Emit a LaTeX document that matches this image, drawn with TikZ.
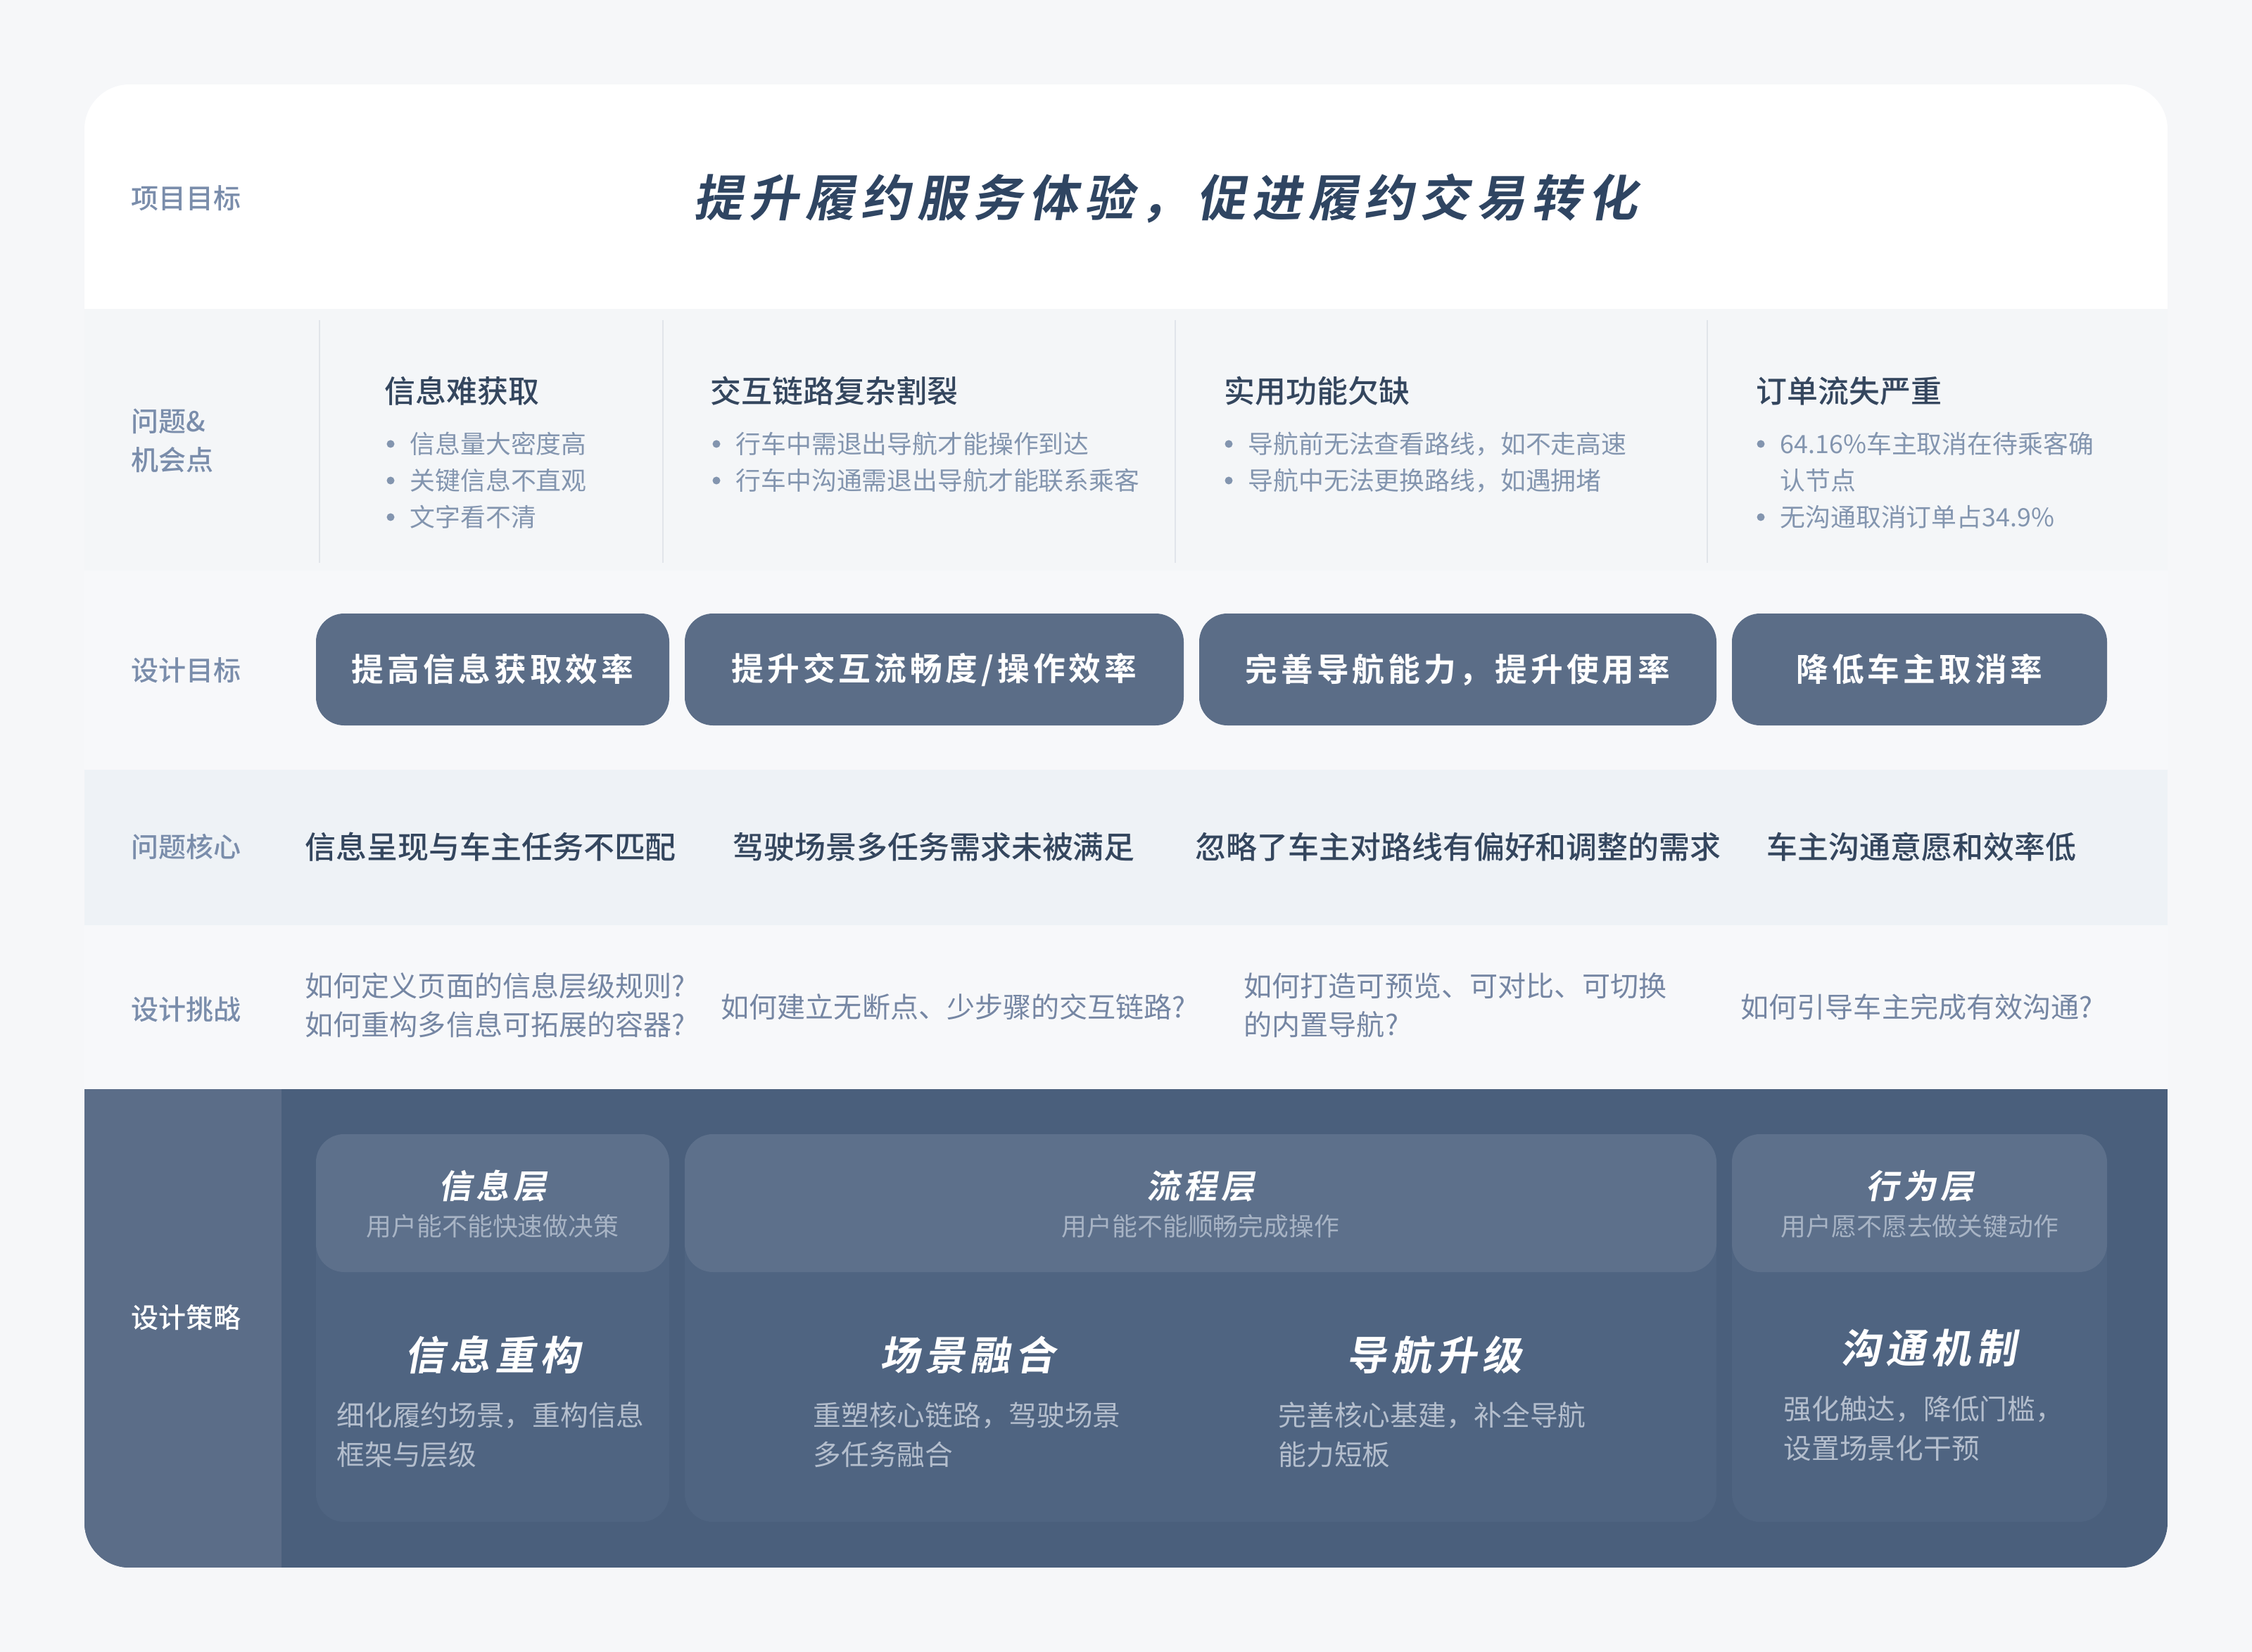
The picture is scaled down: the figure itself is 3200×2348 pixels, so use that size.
\documentclass[tikz,border=0pt]{standalone}
\usepackage{fontspec}
\setmainfont{Noto Sans CJK SC}[BoldFont={Noto Sans CJK SC Bold}]
\newfontfamily\medfont{Noto Sans CJK SC Medium}
\newfontfamily\slantfont{Noto Sans CJK SC Bold}[FakeSlant=0.18, LetterSpace=13]
\newfontfamily\spacedfont{Noto Sans CJK SC Bold}[LetterSpace=11]
\usepackage{tikz}
\usetikzlibrary{positioning}
\usepackage{xcolor}

\definecolor{pagebg}{HTML}{F6F7F9}
\definecolor{rowlight}{HTML}{F4F6F8}
\definecolor{rowpale}{HTML}{F7F8FA}
\definecolor{rowcore}{HTML}{EEF2F6}
\definecolor{navy}{HTML}{4A5F7C}
\definecolor{navyleft}{HTML}{5B6D88}
\definecolor{goalfill}{HTML}{5B6D87}
\definecolor{layerfill}{HTML}{5D708B}
\definecolor{colfill}{HTML}{4F6481}
\definecolor{labelblue}{HTML}{7A8DAB}
\definecolor{darktext}{HTML}{34465E}
\definecolor{titletext}{HTML}{2F4562}
\definecolor{bullettext}{HTML}{8395AF}
\definecolor{asktext}{HTML}{7586A3}
\definecolor{desctext}{HTML}{B4BECD}
\definecolor{subtext}{HTML}{A8B4C5}
\definecolor{sepline}{HTML}{E1E5EA}

\begin{document}
\begin{tikzpicture}[x=0.1mm, y=-0.1mm,
  rowlabel/.style={anchor=west, inner sep=0pt, text=labelblue, align=left, font=\medfont\fontsize{11.1}{15.6}\selectfont},
  problem/.style={anchor=west, inner sep=0pt, text=darktext, font=\medfont\fontsize{12.5}{15}\selectfont},
  item/.style={anchor=west, inner sep=0pt, text=bullettext, font=\fontsize{10.2}{14.5}\selectfont},
  dot/.style={circle, fill=bullettext, minimum size=1.1mm, inner sep=0pt},
  goalbox/.style={rectangle, fill=goalfill, rounded corners=4mm, minimum height=15.9mm, text=white, font=\spacedfont\fontsize{13}{15}\selectfont},
  core/.style={anchor=west, inner sep=0pt, text=darktext, font=\medfont\fontsize{12.5}{15}\selectfont},
  ask/.style={anchor=west, inner sep=0pt, text=asktext, align=left, font=\fontsize{11.4}{15.6}\selectfont},
  colbox/.style={rectangle, fill=colfill, rounded corners=4mm, minimum height=55.1mm},
  layerbox/.style={rectangle, fill=layerfill, rounded corners=4mm, minimum height=19.6mm},
  layertitle/.style={text=white, font=\slantfont\fontsize{13.4}{15}\selectfont},
  layersub/.style={text=subtext, font=\fontsize{10.2}{12}\selectfont},
  strategy/.style={text=white, font=\slantfont\fontsize{16.2}{18}\selectfont},
  desc/.style={anchor=west, inner sep=0pt, text=desctext, align=left, font=\fontsize{11.3}{15.9}\selectfont}]

\useasboundingbox (0,0) rectangle (3200,2348);
\fill[pagebg] (0,0) rectangle (3200,2348);

% Card and row bands
\begin{scope}
\clip[rounded corners=6.4mm] (120,120) rectangle (3080,2228);
\fill[white] (120,120) rectangle (3080,439);
\fill[rowlight] (120,439) rectangle (3080,811);
\fill[rowpale] (120,811) rectangle (3080,1094);
\fill[rowcore] (120,1094) rectangle (3080,1315);
\fill[rowpale] (120,1315) rectangle (3080,1548);
\fill[navy] (120,1548) rectangle (3080,2228);
\fill[navyleft] (120,1548) rectangle (400,2228);
\end{scope}

% Row labels
\node[rowlabel] at (186,282) (l1) {项目目标};
\node[rowlabel] at (186,626) (l2) {问题\&\\机会点};
\node[rowlabel] at (186,953) (l3) {设计目标};
\node[rowlabel] at (186,1204) (l4) {问题核心};
\node[rowlabel] at (186,1435) (l5) {设计挑战};
\node[rowlabel, text=white] at (186,1873) (l6) {设计策略};

% Project goal
\node[text=titletext, font=\slantfont\fontsize{20}{24}\selectfont] at (1656,282) (goal) {提升履约服务体验，促进履约交易转化};

% Problems & opportunities
\draw[sepline, line width=0.25mm] (454,455) -- (454,800);
\draw[sepline, line width=0.25mm] (942,455) -- (942,800);
\draw[sepline, line width=0.25mm] (1670,455) -- (1670,800);
\draw[sepline, line width=0.25mm] (2426,455) -- (2426,800);

\node[problem] at (546,556) (p1) {信息难获取};
\node[dot] at (555,631) (d11) {};
\node[item] at (582,631) (i11) {信息量大密度高};
\node[dot] at (555,683) (d12) {};
\node[item] at (582,683) (i12) {关键信息不直观};
\node[dot] at (555,735) (d13) {};
\node[item] at (582,735) (i13) {文字看不清};

\node[problem] at (1009,556) (p2) {交互链路复杂割裂};
\node[dot] at (1018,631) (d21) {};
\node[item] at (1045,631) (i21) {行车中需退出导航才能操作到达};
\node[dot] at (1018,683) (d22) {};
\node[item] at (1045,683) (i22) {行车中沟通需退出导航才能联系乘客};

\node[problem] at (1739,556) (p3) {实用功能欠缺};
\node[dot] at (1746,631) (d31) {};
\node[item] at (1773,631) (i31) {导航前无法查看路线，如不走高速};
\node[dot] at (1746,683) (d32) {};
\node[item] at (1773,683) (i32) {导航中无法更换路线，如遇拥堵};

\node[problem] at (2495,556) (p4) {订单流失严重};
\node[dot] at (2502,631) (d41) {};
\node[item] at (2529,631) (i41) {64.16\%车主取消在待乘客确};
\node[item] at (2529,683) (i41b) {认节点};
\node[dot] at (2502,735) (d42) {};
\node[item] at (2529,735) (i42) {无沟通取消订单占34.9\%};

% Design goals
\node[goalbox, minimum width=50.2mm] at (700,951.5) (g1) {提高信息获取效率};
\node[goalbox, minimum width=70.9mm] at (1327.5,951.5) (g2) {提升交互流畅度/操作效率};
\node[goalbox, minimum width=73.5mm] at (2071.5,951.5) (g3) {完善导航能力，提升使用率};
\node[goalbox, minimum width=53.3mm] at (2727.5,951.5) (g4) {降低车主取消率};

% Core problems
\node[core] at (433,1204) (c1) {信息呈现与车主任务不匹配};
\node[core] at (1041,1204) (c2) {驾驶场景多任务需求未被满足};
\node[core] at (1698,1204) (c3) {忽略了车主对路线有偏好和调整的需求};
\node[core] at (2510,1204) (c4) {车主沟通意愿和效率低};

% Design challenges
\node[ask] at (433,1429) (q1) {如何定义页面的信息层级规则?\\如何重构多信息可拓展的容器?};
\node[ask] at (1024,1431) (q2) {如何建立无断点、少步骤的交互链路?};
\node[ask] at (1767,1429) (q3) {如何打造可预览、可对比、可切换\\的内置导航?};
\node[ask] at (2473,1431) (q4) {如何引导车主完成有效沟通?};

% Design strategy columns
\node[colbox, minimum width=50.2mm] at (700,1887.5) (s1) {};
\node[colbox, minimum width=146.6mm] at (1706,1887.5) (s2) {};
\node[colbox, minimum width=53.3mm] at (2727.5,1887.5) (s3) {};
\node[layerbox, minimum width=50.2mm] at (700,1710) (h1) {};
\node[layerbox, minimum width=146.6mm] at (1706,1710) (h2) {};
\node[layerbox, minimum width=53.3mm] at (2727.5,1710) (h3) {};

\node[layertitle] at (700,1686) (t1) {信息层};
\node[layersub] at (700,1743) (u1) {用户能不能快速做决策};
\node[layertitle] at (1706,1686) (t2) {流程层};
\node[layersub] at (1706,1743) (u2) {用户能不能顺畅完成操作};
\node[layertitle] at (2728,1686) (t3) {行为层};
\node[layersub] at (2728,1743) (u3) {用户愿不愿去做关键动作};

\node[strategy] at (700,1926) (m1) {信息重构};
\node[desc] at (478,2039) (e1) {细化履约场景，重构信息\\框架与层级};
\node[strategy] at (1375,1926) (m2) {场景融合};
\node[desc] at (1155,2039) (e2) {重塑核心链路，驾驶场景\\多任务融合};
\node[strategy] at (2038,1926) (m3) {导航升级};
\node[desc] at (1816,2039) (e3) {完善核心基建，补全导航\\能力短板};
\node[strategy] at (2740,1916) (m4) {沟通机制};
\node[desc] at (2534,2030) (e4) {强化触达，降低门槛，\\设置场景化干预};
\end{tikzpicture}
\end{document}
